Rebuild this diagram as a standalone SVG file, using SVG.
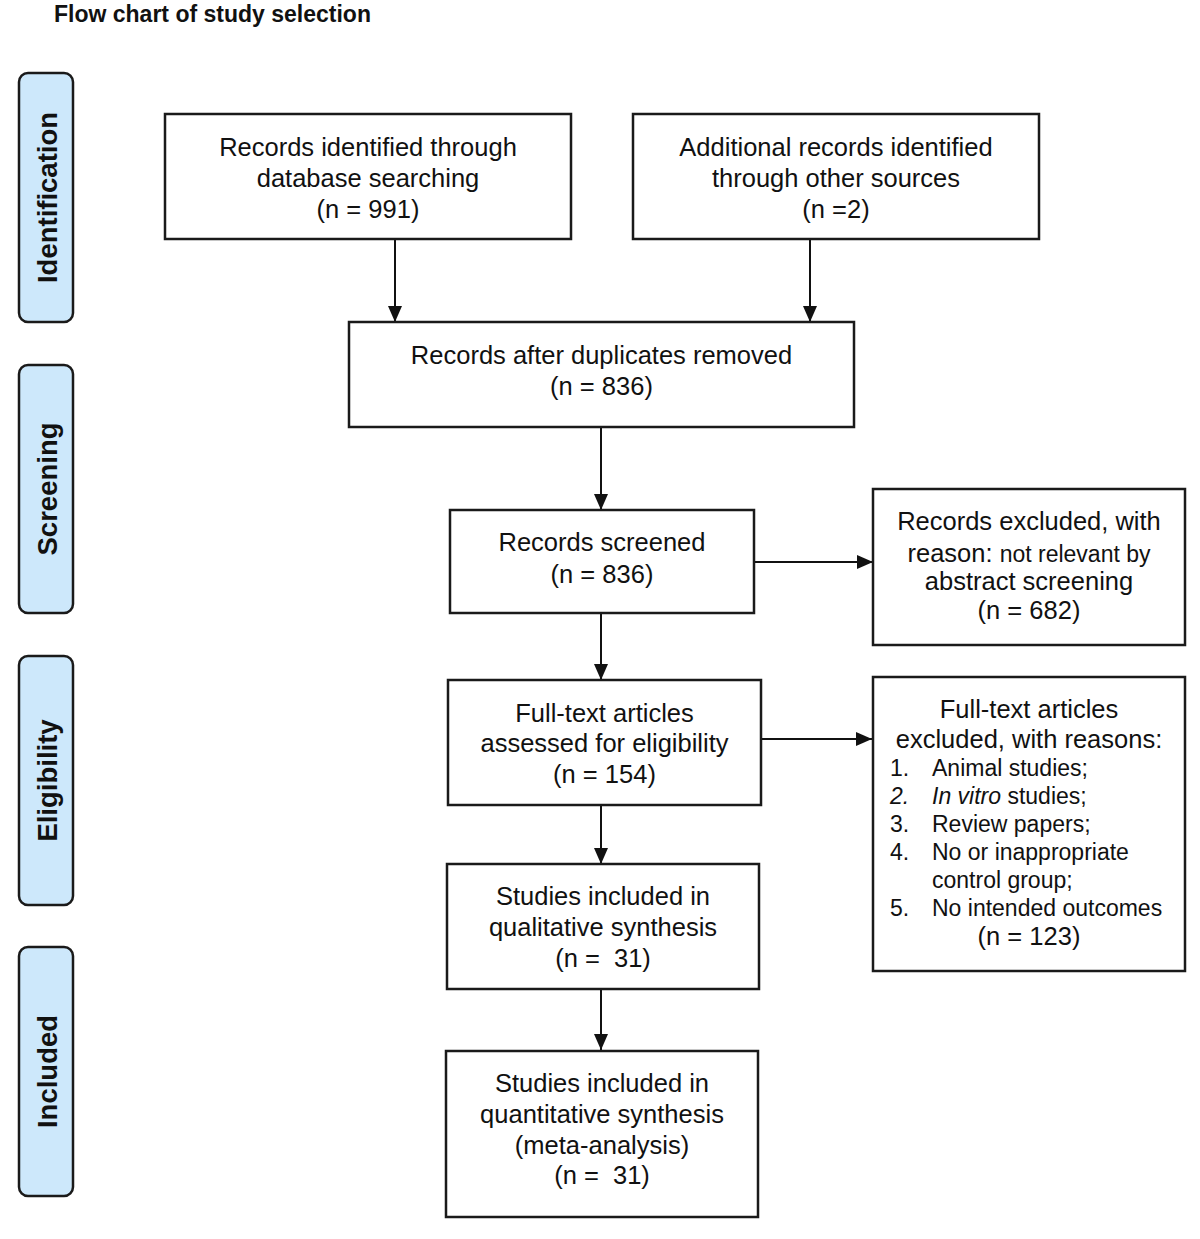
<svg xmlns="http://www.w3.org/2000/svg" width="1200" height="1239" viewBox="0 0 1200 1239">
<style>
  .bg { fill: #ffffff; }
  .box { fill: #ffffff; stroke: #1a1a1a; stroke-width: 2.5; }
  .phase { fill: #cde8fb; stroke: #1a1a1a; stroke-width: 2.5; }
  .t { font-family: "Liberation Sans", Arial, sans-serif; font-size: 25.5px; fill: #111; text-anchor: middle; }
  .s { font-family: "Liberation Sans", Arial, sans-serif; font-size: 23px; fill: #111; }
  .ph { font-family: "Liberation Sans", Arial, sans-serif; font-size: 27.5px; font-weight: bold; fill: #111; text-anchor: middle; }
  .title { font-family: "Liberation Sans", Arial, sans-serif; font-size: 23px; font-weight: bold; fill: #111; }
  .conn { stroke: #111; stroke-width: 2; fill: none; marker-end: url(#arr); }
</style>
<defs>
  <marker id="arr" viewBox="0 0 16 14" refX="16" refY="7" markerWidth="16" markerHeight="14" markerUnits="userSpaceOnUse" orient="auto">
    <path d="M0,0 L16,7 L0,14 z" fill="#111"/>
  </marker>
</defs>
<rect class="bg" x="0" y="0" width="1200" height="1239"/>
<text class="title" x="54" y="22">Flow chart of study selection</text>

<g id="phase-identification">
  <rect class="phase" x="19" y="73" width="54" height="249" rx="9"/>
  <text class="ph" transform="translate(57,197.5) rotate(-90)">Identification</text>
</g>
<g id="phase-screening">
  <rect class="phase" x="19" y="365" width="54" height="248" rx="9"/>
  <text class="ph" transform="translate(57,489) rotate(-90)">Screening</text>
</g>
<g id="phase-eligibility">
  <rect class="phase" x="19" y="656" width="54" height="249" rx="9"/>
  <text class="ph" transform="translate(57,780.5) rotate(-90)">Eligibility</text>
</g>
<g id="phase-included">
  <rect class="phase" x="19" y="947" width="54" height="249" rx="9"/>
  <text class="ph" transform="translate(57,1071.5) rotate(-90)">Included</text>
</g>

<g id="connectors">
  <line class="conn" x1="395" y1="239" x2="395" y2="322"/>
  <line class="conn" x1="810" y1="239" x2="810" y2="322"/>
  <line class="conn" x1="601" y1="427" x2="601" y2="510"/>
  <line class="conn" x1="754" y1="562" x2="873" y2="562"/>
  <line class="conn" x1="601" y1="613" x2="601" y2="680"/>
  <line class="conn" x1="759" y1="739" x2="872" y2="739"/>
  <line class="conn" x1="601" y1="805" x2="601" y2="864"/>
  <line class="conn" x1="601" y1="989" x2="601" y2="1050"/>
</g>

<g id="n-db">
  <rect class="box" x="165" y="114" width="406" height="125"/>
  <text class="t" x="368" y="156">Records identified through</text>
  <text class="t" x="368" y="187">database searching</text>
  <text class="t" x="368" y="218">(n = 991)</text>
</g>
<g id="n-other">
  <rect class="box" x="633" y="114" width="406" height="125"/>
  <text class="t" x="836" y="156">Additional records identified</text>
  <text class="t" x="836" y="187">through other sources</text>
  <text class="t" x="836" y="218">(n =2)</text>
</g>
<g id="n-dup">
  <rect class="box" x="349" y="322" width="505" height="105"/>
  <text class="t" x="601.5" y="364">Records after duplicates removed</text>
  <text class="t" x="601.5" y="395">(n = 836)</text>
</g>
<g id="n-screened">
  <rect class="box" x="450" y="510" width="304" height="103"/>
  <text class="t" x="602" y="551">Records screened</text>
  <text class="t" x="602" y="583">(n = 836)</text>
</g>
<g id="n-excl1">
  <rect class="box" x="873" y="489" width="312" height="156"/>
  <text class="t" x="1029" y="530">Records excluded, with</text>
  <text class="t" x="1029" y="562">reason: <tspan font-size="23">not relevant by</tspan></text>
  <text class="t" x="1029" y="590" font-size="23">abstract screening</text>
  <text class="t" x="1029" y="619">(n = 682)</text>
</g>
<g id="n-fulltext">
  <rect class="box" x="448" y="680" width="313" height="125"/>
  <text class="t" x="604.5" y="722">Full-text articles</text>
  <text class="t" x="604.5" y="752">assessed for eligibility</text>
  <text class="t" x="604.5" y="783">(n = 154)</text>
</g>
<g id="n-excl2">
  <rect class="box" x="873" y="677" width="312" height="294"/>
  <text class="t" x="1029" y="718">Full-text articles</text>
  <text class="t" x="1029" y="748">excluded, with reasons:</text>
  <text class="s" x="890" y="776">1.</text><text class="s" x="932" y="776">Animal studies;</text>
  <text class="s" x="890" y="804" font-style="italic">2.</text><text class="s" x="932" y="804"><tspan font-style="italic">In vitro</tspan> studies;</text>
  <text class="s" x="890" y="832">3.</text><text class="s" x="932" y="832">Review papers;</text>
  <text class="s" x="890" y="860">4.</text><text class="s" x="932" y="860">No or inappropriate</text>
  <text class="s" x="932" y="888">control group;</text>
  <text class="s" x="890" y="916">5.</text><text class="s" x="932" y="916">No intended outcomes</text>
  <text class="t" x="1029" y="945">(n = 123)</text>
</g>
<g id="n-qual">
  <rect class="box" x="447" y="864" width="312" height="125"/>
  <text class="t" x="603" y="905">Studies included in</text>
  <text class="t" x="603" y="936">qualitative synthesis</text>
  <text class="t" x="603" y="967" xml:space="preserve">(n =  31)</text>
</g>
<g id="n-quant">
  <rect class="box" x="446" y="1051" width="312" height="166"/>
  <text class="t" x="602" y="1092">Studies included in</text>
  <text class="t" x="602" y="1123">quantitative synthesis</text>
  <text class="t" x="602" y="1154">(meta-analysis)</text>
  <text class="t" x="602" y="1184" xml:space="preserve">(n =  31)</text>
</g>
</svg>
